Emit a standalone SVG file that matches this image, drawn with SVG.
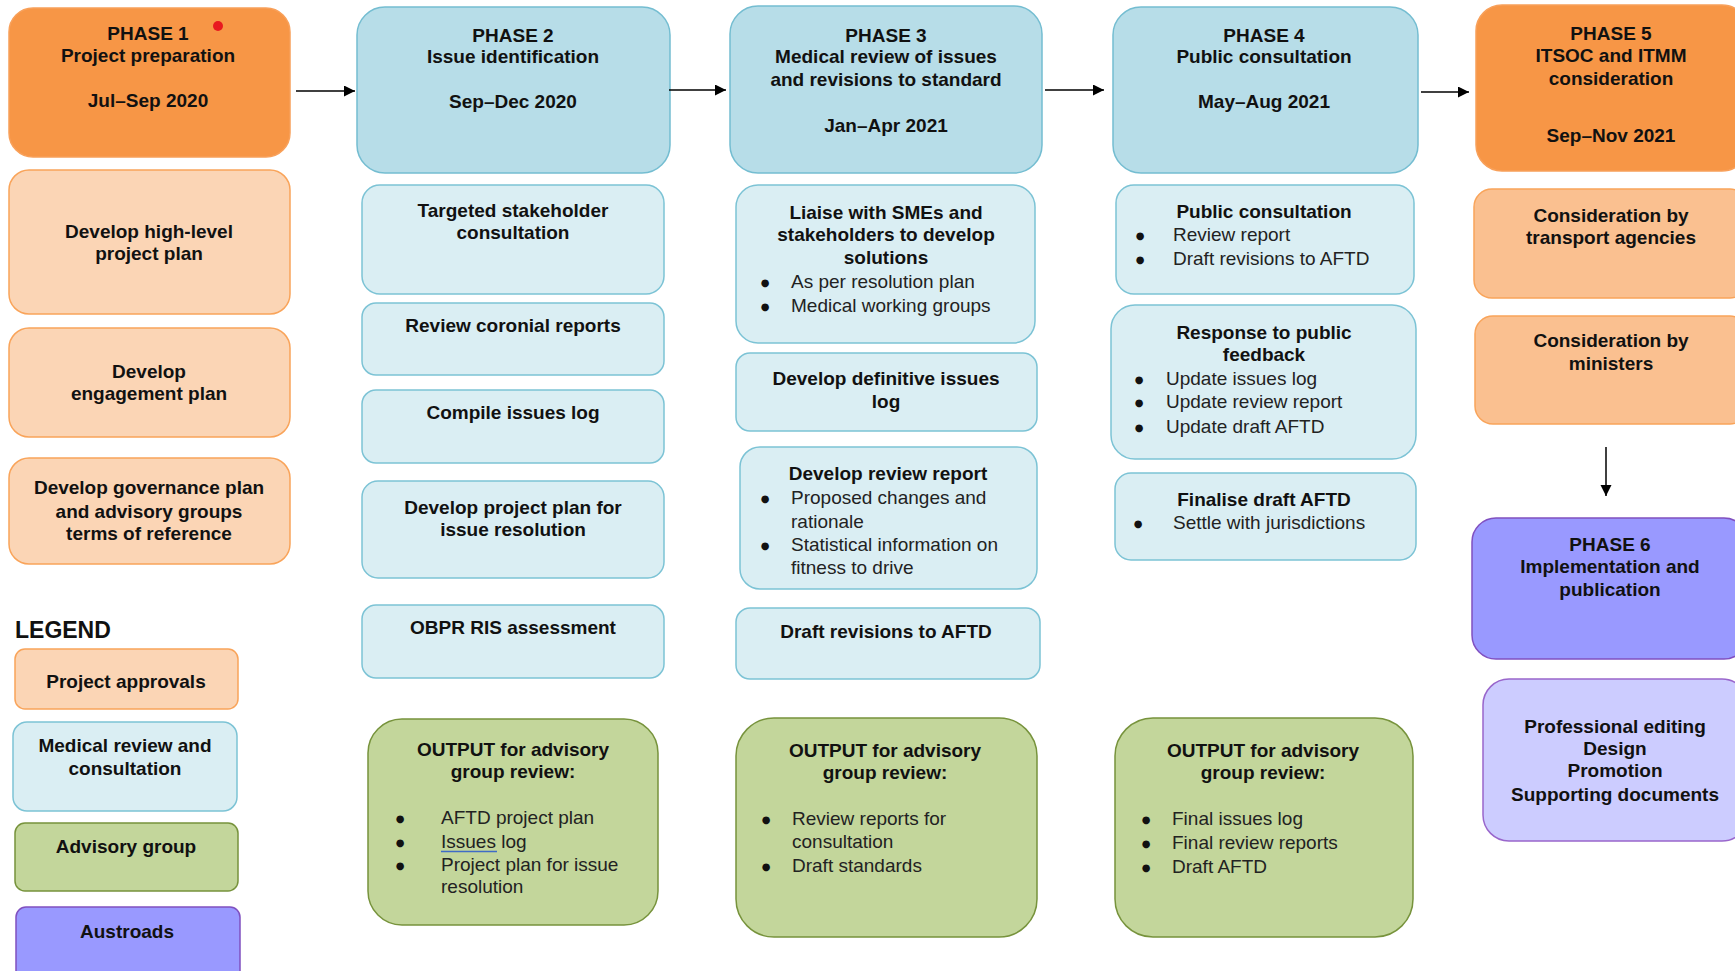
<svg xmlns="http://www.w3.org/2000/svg" width="1735" height="971" viewBox="0 0 1735 971">
<style>
text{font-family:"Liberation Sans",Arial,sans-serif;font-size:19px;fill:#111}
.b{font-weight:bold}
.c{text-anchor:middle}
.n{fill:#222}
.u{font-family:"DejaVu Sans",sans-serif;font-size:10px;fill:#111;text-anchor:middle}
.leg{font-size:23px;font-weight:bold}
.hOr{fill:#F79646;stroke:#F8A05A;stroke-width:1.5}
.iOr{fill:#FBD5B5;stroke:#F9A45A;stroke-width:1.5}
.iOr2{fill:#FAC090;stroke:#F9A45A;stroke-width:1.5}
.hBl{fill:#B7DDE8;stroke:#74BDD1;stroke-width:1.5}
.iBl{fill:#DAEEF3;stroke:#7CC3D5;stroke-width:1.5}
.gr{fill:#C3D69B;stroke:#77933C;stroke-width:1.5}
.pu{fill:#9999FF;stroke:#8050C0;stroke-width:1.5}
.pu2{fill:#CCCCFF;stroke:#9966CC;stroke-width:1.5}
.con{stroke:#000;stroke-width:1.5;fill:none}
</style>
<defs>
<marker id="ah" markerUnits="userSpaceOnUse" markerWidth="12" markerHeight="12" refX="11" refY="5.5" orient="auto">
<path d="M0,0 L11,5.5 L0,11 z" fill="#000"/>
</marker>
</defs>

<!-- Phase 1 column -->
<g id="phase1">
<rect class="hOr" x="9" y="8" width="281" height="149" rx="24"/>
<text class="b c" x="148" y="40">PHASE 1</text>
<text class="b c" x="148" y="62">Project preparation</text>
<text class="b c" x="148" y="107">Jul–Sep 2020</text>
<circle cx="218" cy="26" r="5" fill="#E8191F"/>
</g>
<g id="p1-plan">
<rect class="iOr" x="9" y="170" width="281" height="144" rx="20"/>
<text class="b c" x="149" y="238">Develop high-level</text>
<text class="b c" x="149" y="260">project plan</text>
</g>
<g id="p1-engage">
<rect class="iOr" x="9" y="328" width="281" height="109" rx="20"/>
<text class="b c" x="149" y="378">Develop</text>
<text class="b c" x="149" y="400">engagement plan</text>
</g>
<g id="p1-gov">
<rect class="iOr" x="9" y="458" width="281" height="106" rx="20"/>
<text class="b c" x="149" y="494">Develop governance plan</text>
<text class="b c" x="149" y="518">and advisory groups</text>
<text class="b c" x="149" y="540">terms of reference</text>
</g>

<!-- Legend -->
<g id="legend">
<text class="leg" x="15" y="638">LEGEND</text>
</g>
<g id="leg-approvals">
<rect class="iOr" x="15" y="649" width="223" height="60" rx="10"/>
<text class="b c" x="126" y="688">Project approvals</text>
</g>
<g id="leg-medical">
<rect class="iBl" x="13" y="722" width="224" height="89" rx="14"/>
<text class="b c" x="125" y="752">Medical review and</text>
<text class="b c" x="125" y="775">consultation</text>
</g>
<g id="leg-advisory">
<rect class="gr" x="15" y="823" width="223" height="68" rx="10"/>
<text class="b c" x="126" y="853">Advisory group</text>
</g>
<g id="leg-austroads">
<rect class="pu" x="16" y="907" width="224" height="80" rx="10"/>
<text class="b c" x="127" y="938">Austroads</text>
</g>

<!-- Phase 2 column -->
<g id="phase2">
<rect class="hBl" x="357" y="7" width="313" height="166" rx="28"/>
<text class="b c" x="513" y="42">PHASE 2</text>
<text class="b c" x="513" y="63">Issue identification</text>
<text class="b c" x="513" y="108">Sep–Dec 2020</text>
</g>
<g id="p2-targeted">
<rect class="iBl" x="362" y="185" width="302" height="109" rx="18"/>
<text class="b c" x="513" y="217">Targeted stakeholder</text>
<text class="b c" x="513" y="239">consultation</text>
</g>
<g id="p2-coronial">
<rect class="iBl" x="362" y="303" width="302" height="72" rx="14"/>
<text class="b c" x="513" y="332">Review coronial reports</text>
</g>
<g id="p2-compile">
<rect class="iBl" x="362" y="390" width="302" height="73" rx="14"/>
<text class="b c" x="513" y="419">Compile issues log</text>
</g>
<g id="p2-projplan">
<rect class="iBl" x="362" y="481" width="302" height="97" rx="16"/>
<text class="b c" x="513" y="514">Develop project plan for</text>
<text class="b c" x="513" y="536">issue resolution</text>
</g>
<g id="p2-obpr">
<rect class="iBl" x="362" y="605" width="302" height="73" rx="14"/>
<text class="b c" x="513" y="634">OBPR RIS assessment</text>
</g>
<g id="p2-output">
<rect class="gr" x="368" y="719" width="290" height="206" rx="34"/>
<text class="b c" x="513" y="756">OUTPUT for advisory</text>
<text class="b c" x="513" y="778">group review:</text>
<text class="u" x="400" y="822">●</text><text class="n" x="441" y="824">AFTD project plan</text>
<text class="u" x="400" y="846">●</text><text class="n" x="441" y="848">Issues log</text>
<line x1="441" y1="851.5" x2="497" y2="851.5" stroke="#3F6BC6" stroke-width="1.6"/>
<text class="u" x="400" y="869">●</text><text class="n" x="441" y="871">Project plan for issue</text>
<text class="n" x="441" y="893">resolution</text>
</g>

<!-- Phase 3 column -->
<g id="phase3">
<rect class="hBl" x="730" y="6" width="312" height="167" rx="28"/>
<text class="b c" x="886" y="42">PHASE 3</text>
<text class="b c" x="886" y="63">Medical review of issues</text>
<text class="b c" x="886" y="86">and revisions to standard</text>
<text class="b c" x="886" y="132">Jan–Apr 2021</text>
</g>
<g id="p3-liaise">
<rect class="iBl" x="736" y="185" width="299" height="158" rx="22"/>
<text class="b c" x="886" y="219">Liaise with SMEs and</text>
<text class="b c" x="886" y="241">stakeholders to develop</text>
<text class="b c" x="886" y="264">solutions</text>
<text class="u" x="765" y="286">●</text><text class="n" x="791" y="288">As per resolution plan</text>
<text class="u" x="765" y="310">●</text><text class="n" x="791" y="312">Medical working groups</text>
</g>
<g id="p3-definitive">
<rect class="iBl" x="736" y="353" width="301" height="78" rx="14"/>
<text class="b c" x="886" y="385">Develop definitive issues</text>
<text class="b c" x="886" y="408">log</text>
</g>
<g id="p3-review">
<rect class="iBl" x="740" y="447" width="297" height="142" rx="20"/>
<text class="b c" x="888" y="480">Develop review report</text>
<text class="u" x="765" y="502">●</text><text class="n" x="791" y="504">Proposed changes and</text>
<text class="n" x="791" y="528">rationale</text>
<text class="u" x="765" y="549">●</text><text class="n" x="791" y="551">Statistical information on</text>
<text class="n" x="791" y="574">fitness to drive</text>
</g>
<g id="p3-draft">
<rect class="iBl" x="736" y="608" width="304" height="71" rx="14"/>
<text class="b c" x="886" y="638">Draft revisions to AFTD</text>
</g>
<g id="p3-output">
<rect class="gr" x="736" y="718" width="301" height="219" rx="38"/>
<text class="b c" x="885" y="757">OUTPUT for advisory</text>
<text class="b c" x="885" y="779">group review:</text>
<text class="u" x="766" y="823">●</text><text class="n" x="792" y="825">Review reports for</text>
<text class="n" x="792" y="848">consultation</text>
<text class="u" x="766" y="870">●</text><text class="n" x="792" y="872">Draft standards</text>
</g>

<!-- Phase 4 column -->
<g id="phase4">
<rect class="hBl" x="1113" y="7" width="305" height="166" rx="28"/>
<text class="b c" x="1264" y="42">PHASE 4</text>
<text class="b c" x="1264" y="63">Public consultation</text>
<text class="b c" x="1264" y="108">May–Aug 2021</text>
</g>
<g id="p4-public">
<rect class="iBl" x="1116" y="185" width="298" height="109" rx="18"/>
<text class="b c" x="1264" y="218">Public consultation</text>
<text class="u" x="1140" y="239">●</text><text class="n" x="1173" y="241">Review report</text>
<text class="u" x="1140" y="263">●</text><text class="n" x="1173" y="265">Draft revisions to AFTD</text>
</g>
<g id="p4-response">
<rect class="iBl" x="1111" y="305" width="305" height="154" rx="24"/>
<text class="b c" x="1264" y="339">Response to public</text>
<text class="b c" x="1264" y="361">feedback</text>
<text class="u" x="1139" y="383">●</text><text class="n" x="1166" y="385">Update issues log</text>
<text class="u" x="1139" y="406">●</text><text class="n" x="1166" y="408">Update review report</text>
<text class="u" x="1139" y="431">●</text><text class="n" x="1166" y="433">Update draft AFTD</text>
</g>
<g id="p4-finalise">
<rect class="iBl" x="1115" y="473" width="301" height="87" rx="16"/>
<text class="b c" x="1264" y="506">Finalise draft AFTD</text>
<text class="u" x="1138" y="527">●</text><text class="n" x="1173" y="529">Settle with jurisdictions</text>
</g>
<g id="p4-output">
<rect class="gr" x="1115" y="718" width="298" height="219" rx="38"/>
<text class="b c" x="1263" y="757">OUTPUT for advisory</text>
<text class="b c" x="1263" y="779">group review:</text>
<text class="u" x="1146" y="823">●</text><text class="n" x="1172" y="825">Final issues log</text>
<text class="u" x="1146" y="847">●</text><text class="n" x="1172" y="849">Final review reports</text>
<text class="u" x="1146" y="871">●</text><text class="n" x="1172" y="873">Draft AFTD</text>
</g>

<!-- Phase 5 / 6 column -->
<g id="phase5">
<rect class="hOr" x="1476" y="5" width="272" height="166" rx="26"/>
<text class="b c" x="1611" y="40">PHASE 5</text>
<text class="b c" x="1611" y="62">ITSOC and ITMM</text>
<text class="b c" x="1611" y="85">consideration</text>
<text class="b c" x="1611" y="142">Sep–Nov 2021</text>
</g>
<g id="p5-transport">
<rect class="iOr2" x="1474" y="189" width="274" height="109" rx="18"/>
<text class="b c" x="1611" y="222">Consideration by</text>
<text class="b c" x="1611" y="244">transport agencies</text>
</g>
<g id="p5-ministers">
<rect class="iOr2" x="1475" y="316" width="273" height="108" rx="18"/>
<text class="b c" x="1611" y="347">Consideration by</text>
<text class="b c" x="1611" y="370">ministers</text>
</g>
<g id="phase6">
<rect class="pu" x="1472" y="518" width="276" height="141" rx="24"/>
<text class="b c" x="1610" y="551">PHASE 6</text>
<text class="b c" x="1610" y="573">Implementation and</text>
<text class="b c" x="1610" y="596">publication</text>
</g>
<g id="p6-editing">
<rect class="pu2" x="1483" y="679" width="265" height="162" rx="26"/>
<text class="b c" x="1615" y="733">Professional editing</text>
<text class="b c" x="1615" y="755">Design</text>
<text class="b c" x="1615" y="777">Promotion</text>
<text class="b c" x="1615" y="801">Supporting documents</text>
</g>

<!-- Connectors -->
<g id="connectors">
<line class="con" x1="296" y1="91" x2="355" y2="91" marker-end="url(#ah)"/>
<line class="con" x1="669" y1="90" x2="726" y2="90" marker-end="url(#ah)"/>
<line class="con" x1="1045" y1="90" x2="1104" y2="90" marker-end="url(#ah)"/>
<line class="con" x1="1421" y1="92" x2="1469" y2="92" marker-end="url(#ah)"/>
<line class="con" x1="1606" y1="447" x2="1606" y2="496" marker-end="url(#ah)"/>
</g>
</svg>
